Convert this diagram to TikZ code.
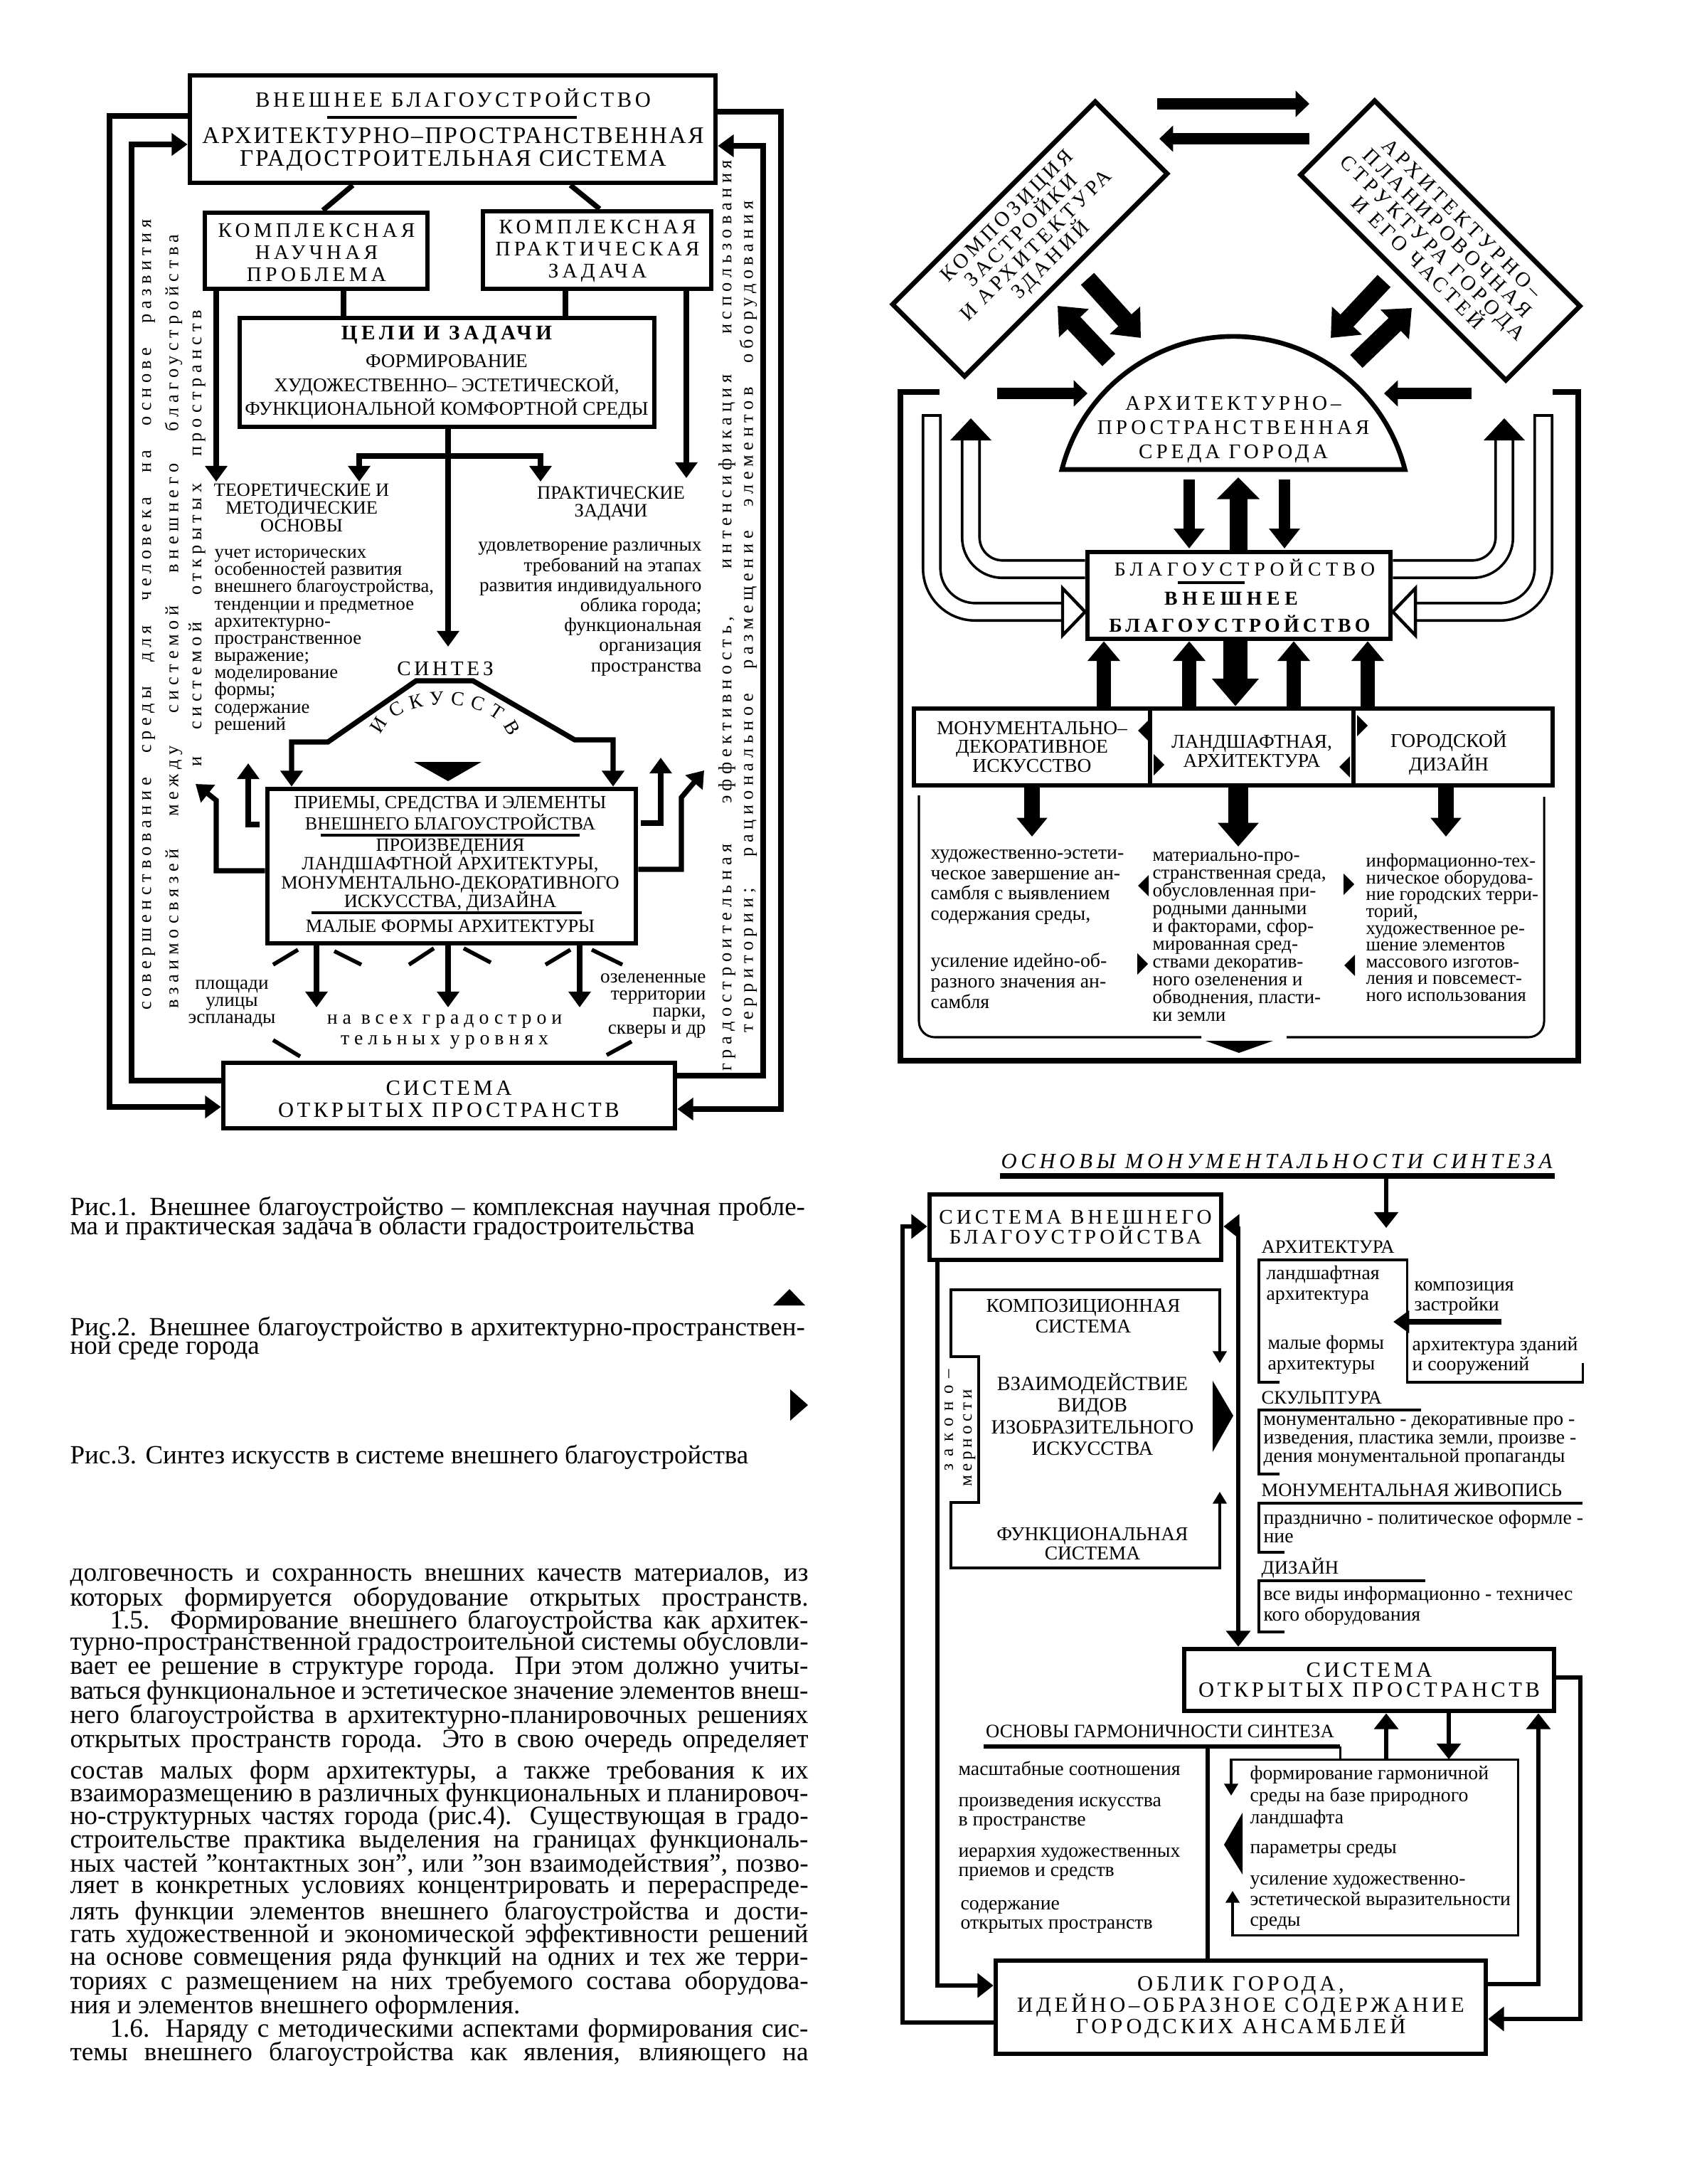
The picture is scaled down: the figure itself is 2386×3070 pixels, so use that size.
\documentclass[tikz,border=0pt]{standalone}
\usepackage{fontspec}
\setmainfont{Liberation Serif}
\usetikzlibrary{arrows.meta,positioning,calc,fit,decorations.text}
\newcommand\fnt[3]{\fontsize{#1}{#2}\selectfont\addfontfeature{LetterSpace=#3}\lineskiplimit=-50pt\lineskip=0pt}

\begin{document}
\begin{tikzpicture}[x=0.36pt,y=-0.36pt,
  box/.style={draw,line width=2.4pt,inner sep=0pt},
  lbl/.style={inner sep=0pt,align=center},
  lft/.style={inner sep=0pt,align=left,anchor=west},
  rgt/.style={inner sep=0pt,align=right,anchor=east},
  vert/.style={inner sep=0pt,rotate=90,anchor=west},
  ln/.style={line width=2.6pt},
  thn/.style={line width=1.1pt},
  ar/.style={-{Triangle[length=8pt,width=11pt]},line width=2.6pt},
  arr/.style={{Triangle[length=8pt,width=11pt]}-{Triangle[length=8pt,width=11pt]},line width=2.6pt},
  ar3/.style={-{Triangle[length=8pt,width=12pt]},line width=2.4pt},
  thar/.style={{Triangle[length=6pt,width=7pt]}-{Triangle[length=6pt,width=7pt]},line width=1.1pt},
  fat/.style={-{Triangle[length=12pt,width=20pt]},line width=9pt},
  harr/.style={-{Triangle[length=7pt,width=13pt]},line width=5.6pt},
  med/.style={-{Triangle[length=10pt,width=15pt]},line width=5.5pt},
  rowar/.style={-{Triangle[length=10pt,width=16pt]},line width=7pt},
  big/.style={-{Triangle[length=14pt,width=23pt]},line width=12pt},
  band/.style={line width=1.3pt,double=white,double distance=7.5pt},
  capt/.style={font=\fnt{10.5}{11.3}{18}},
  low/.style={font=\fnt{9.6}{8.7}{0}},
  body/.style={inner sep=0pt,anchor=west,font=\fnt{13.4}{15}{0}},
  figcap/.style={inner sep=0pt,anchor=west,font=\fnt{13.3}{15}{0}}]
\fill[white] (0,0) rectangle (2386,3070);
\useasboundingbox (0,0) rectangle (2386,3070);
% figure 1
\node[box,fit={(267,106) (1006,257)}] (top) {};
\node[lbl,font=\fnt{11}{12}{15}] (topa) at (637,138) {ВНЕШНЕЕ БЛАГОУСТРОЙСТВО};
\draw[line width=1.6pt] (460,165) -- (811,165);
\node[lbl,font=\fnt{12}{11.5}{8}] (topb) at (637,210) {АРХИТЕКТУРНО–ПРОСТРАНСТВЕННАЯ\\ГРАДОСТРОИТЕЛЬНАЯ СИСТЕМА};
\node[box,fit={(288,299) (601,406)}] (sci) {};
\node[lbl,capt] at (445,355) {КОМПЛЕКСНАЯ\\НАУЧНАЯ\\ПРОБЛЕМА};
\node[box,fit={(679,297) (1000,406)}] (prac) {};
\node[lbl,capt] at (840,353) {КОМПЛЕКСНАЯ\\ПРАКТИЧЕСКАЯ\\ЗАДАЧА};
\draw[ln] (top.south -| 496,0) -- (sci.north -| 454,0);
\draw[ln] (top.south -| 802,0) -- (prac.north -| 843,0);
\node[box,fit={(337,447) (920,600)}] (goals) {};
\node[lbl,font={\bfseries\fnt{10.5}{12}{19}}] at (628,471) {ЦЕЛИ И ЗАДАЧИ};
\node[lbl,font=\fnt{9.8}{12}{0}] at (628,544) {ФОРМИРОВАНИЕ\\ХУДОЖЕСТВЕННО– ЭСТЕТИЧЕСКОЙ,\\ФУНКЦИОНАЛЬНОЙ КОМФОРТНОЙ СРЕДЫ};
\draw[ln] (sci.south -| 483,0) -- (goals.north -| 483,0);
\draw[ln] (prac.south -| 795,0) -- (goals.north -| 795,0);
\draw[ar] (sci.south -| 304,0) -- (304,677);
\draw[ar] (prac.south -| 965,0) -- (965,672);
\draw[ar] (goals.south -| 630,0) -- (630,909);
\draw[ar] (630,641) -| (505,677);
\draw[ar] (630,641) -| (760,677);
\node[lbl,font=\fnt{9.5}{8.9}{0}] (theo) at (424,714) {ТЕОРЕТИЧЕСКИЕ И\\МЕТОДИЧЕСКИЕ\\ОСНОВЫ};
\node[lft,low] at (301,902) {учет исторических\\особенностей развития\\внешнего благоустройства,\\тенденции и предметное\\архитектурно-\\пространственное\\выражение;\\моделирование\\формы;\\содержание\\решений};
\node[lbl,font=\fnt{9.6}{9}{0}] (ptask) at (859,708) {ПРАКТИЧЕСКИЕ\\ЗАДАЧИ};
\node[rgt,font=\fnt{9.8}{10.15}{0}] at (987,856) {удовлетворение различных\\требований на этапах\\развития индивидуального\\облика города;\\функциональная\\организация\\пространства};
\node[lbl,font=\fnt{10.5}{12}{16}] (synt) at (626,940) {СИНТЕЗ};
\path[decorate,decoration={text along path,text align={fit to path},
  text={|\fontsize{10}{12}\selectfont|ИСКУССТВ}}] (536,1033) .. controls (556,976) and (696,976) .. (716,1036);
\node[box,fit={(376,1109) (894,1326)}] (meth) {};
\draw[arr] (meth.north -| 410,0) |- (461,1043) -- (585,957) -- (665,957) -- (808,1040) -| (meth.north -| 862,0);
\fill (582,1071) -- (677,1071) -- (630,1098) -- cycle;
\node[lbl,font=\fnt{9.4}{10.8}{0}] at (633,1143) {ПРИЕМЫ, СРЕДСТВА И ЭЛЕМЕНТЫ\\ВНЕШНЕГО БЛАГОУСТРОЙСТВА};
\draw[line width=1.2pt] (451,1174) -- (815,1174);
\node[lbl,font=\fnt{9.5}{9.4}{0}] at (633,1230) {ПРОИЗВЕДЕНИЯ\\ЛАНДШАФТНОЙ АРХИТЕКТУРЫ,\\МОНУМЕНТАЛЬНО-ДЕКОРАТИВНОГО\\ИСКУССТВА, ДИЗАЙНА};
\draw[line width=1.2pt] (438,1283) -- (818,1283);
\node[lbl,font=\fnt{9.5}{10}{0}] at (633,1302) {МАЛЫЕ ФОРМЫ АРХИТЕКТУРЫ};
\draw[ar] (365,1159) -| (349,1073);
\draw[ar] (901,1157) -| (929,1065);
\draw[ar] (meth.west |- 0,1224) -| (304,1125) -- (275,1102);
\draw[ar] (meth.east |- 0,1222) -| (958,1121) -- (990,1083);
\foreach \x in {445,630,815}
  \draw[ar] (meth.south -| \x,0) -- (\x,1416);
\foreach \a/\b/\c/\d in {384/1356/419/1335, 470/1337/508/1356, 575/1356/610/1333, 652/1333/690/1353,
  767/1356/802/1335, 832/1335/875/1356, 384/1462/422/1485, 853/1483/888/1464}
  \draw[line width=2pt] (\a,\b) -- (\c,\d);
\node[lbl,font=\fnt{9.8}{8.6}{0}] at (326,1411) {площади\\улицы\\эспланады};
\node[lbl,font=\fnt{10}{10.4}{25}] at (625,1450) {на всех градострои\\тельных уровнях};
\node[rgt,font=\fnt{9.8}{8.75}{0}] at (993,1414) {озелененные\\территории\\парки,\\скверы и др};
\node[box,fit={(314,1494) (949,1586)}] (open) {};
\node[lbl,font=\fnt{11}{11.5}{15}] at (631,1545) {СИСТЕМА\\ОТКРЫТЫХ ПРОСТРАНСТВ};
% loops round figure 1
\draw[ar] (top.west |- 0,163) -| (154,1556) -- (open.west |- 0,1556);
\draw[ar] (open.west |- 0,1519) -| (185,203) -- (top.west |- 0,203);
\draw[ar] (top.east |- 0,157) -| (1098,1559) -- (open.east |- 0,1559);
\draw[ar] (open.east |- 0,1512) -| (1073,205) -- (top.east |- 0,205);
\node[vert,font=\fnt{9.5}{10}{25}] at (209,1420) {\makebox[400pt][s]{совершенствование среды для человека на основе развития}};
\node[vert,font=\fnt{9.5}{10}{25}] at (244,1418) {\makebox[391.7pt][s]{взаимосвязей между системой внешнего благоустройства}};
\node[vert,font=\fnt{9.5}{10}{25}] at (277,1078) {\makebox[230.8pt][s]{и системой открытых пространств}};
\node[vert,font=\fnt{9.5}{10}{25}] at (1022,1506) {\makebox[461pt][s]{градостроительная эффективность, интенсификация использования}};
\node[vert,font=\fnt{9.5}{10}{25}] at (1052,1452) {\makebox[420.8pt][s]{территории; рациональное размещение элементов оборудования}};
% figure 2
\draw[harr] (1627,146) -- (1841,146);
\draw[harr] (1841,195) -- (1630,195);
\node[box,rotate=45,minimum width=145pt,minimum height=51.5pt] (comp) at (1448,336) {};
\node[lbl,rotate=45,font=\fnt{10.5}{10.5}{17}] at (comp.center) {КОМПОЗИЦИЯ\\ЗАСТРОЙКИ\\И АРХИТЕКТУРА\\ЗДАНИЙ};
\node[box,rotate=-45,minimum width=147pt,minimum height=53pt] (plan) at (2025,338) {};
\node[lbl,rotate=-45,font=\fnt{10.5}{10.5}{17}] at (plan.center) {АРХИТЕКТУРНО–\\ПЛАНИРОВОЧНАЯ\\СТРУКТУРА ГОРОДА\\И ЕГО ЧАСТЕЙ};
\draw[line width=2.4pt] (1493,660) arc[start angle=194.4,end angle=345.6,radius=249] -- cycle;
\node[lbl,font=\fnt{10.5}{12.4}{17}] (dome) at (1734,604) {АРХИТЕКТУРНО–\\ПРОСТРАНСТВЕННАЯ\\СРЕДА ГОРОДА};
\draw[fat] (1529,392) -- (1604,475);
\draw[fat] (1559,506) -- (1487,430);
\draw[fat] (1946,395) -- (1871,475);
\draw[fat] (1907,508) -- (1985,433);
\draw[harr] (1402,553) -- (1529,553);
\draw[harr] (2069,553) -- (1946,553);
\node[box,fit={(1529,776) (1955,898)}] (blg) {};
\node[lbl,font=\fnt{10}{12}{24}] at (1750,798) {БЛАГОУСТРОЙСТВО};
\draw[line width=1.5pt] (1656,819) -- (1750,819);
\node[lbl,font={\bfseries\fnt{10}{12}{24}}] at (1731,841) {ВНЕШНЕЕ};
\node[lbl,font={\bfseries\fnt{10}{12}{19}}] at (1743,877) {БЛАГОУСТРОЙСТВО};
\draw[med] (1672,674) -- (1672,771);
\draw[med,line width=9pt,-{Triangle[length=11pt,width=21pt]}] (1741,774) -- (1741,671);
\draw[med] (1806,674) -- (1806,771);
% hollow bands
\draw[band,rounded corners=22pt] (1310,584) |- (1494,860);
\draw[line width=1.3pt] (1296,584) -- (1324,584);
\draw[line width=1.6pt,fill=white] (1494,827) -- (blg.west |- 0,860) -- (1494,893) -- cycle;
\draw[band,rounded corners=16pt] (1365,618) |- (blg.west |- 0,800);
\fill (1336,619) -- (1365,588) -- (1394,619) -- cycle;
\draw[band,rounded corners=22pt] (2170,584) |- (1990,860);
\draw[line width=1.3pt] (2156,584) -- (2184,584);
\draw[line width=1.6pt,fill=white] (1990,827) -- (blg.east |- 0,860) -- (1990,893) -- cycle;
\draw[band,rounded corners=16pt] (2115,618) |- (blg.east |- 0,800);
\fill (2086,619) -- (2115,588) -- (2144,619) -- cycle;
% row of boxes
\node[box,fit={(1285,996) (1617,1104)}] (mon) {};
\node[box,fit={(1617,996) (1903,1104)}] (land) {};
\node[box,fit={(1903,996) (2183,1104)}] (diz) {};
\node[lbl,font=\fnt{9.9}{9.5}{0}] at (mon.center) {МОНУМЕНТАЛЬНО–\\ДЕКОРАТИВНОЕ\\ИСКУССТВО};
\node[lbl,font=\fnt{9.9}{10}{0}] at (1760,1056) {ЛАНДШАФТНАЯ,\\АРХИТЕКТУРА};
\node[lbl,font=\fnt{9.9}{12}{0}] at (2037,1058) {ГОРОДСКОЙ\\ДИЗАЙН};
\foreach \x in {1552,1672,1819,1923}
  \draw[rowar] (mon.north -| \x,0) -- (blg.south -| \x,0);
\draw[big] (blg.south -| 1737,0) -- (mon.north -| 1737,0);
\foreach \x/\y in {1600/1027, 1883/1078, 1600/1245, 1890/1357}
  \fill (\x,\y) -- ++(15,-15) -- ++(0,30) -- cycle;
\foreach \x/\y in {1637/1075, 1923/1020, 1614/1355, 1904/1243}
  \fill (\x,\y) -- ++(-15,-15) -- ++(0,30) -- cycle;
\draw[-{Triangle[length=9.5pt,width=15pt]},line width=8pt] (mon.south -| 1451,0) -- (1451,1176);
\draw[-{Triangle[length=12pt,width=20pt]},line width=10pt] (land.south -| 1741,0) -- (1741,1190);
\draw[-{Triangle[length=9.5pt,width=15pt]},line width=8pt] (diz.south -| 2033,0) -- (2033,1176);
\node[lft,font=\fnt{10}{10.3}{0}] at (1308,1247) {художественно-эстети-\\ческое завершение ан-\\самбля с выявлением\\содержания среды,};
\node[lft,font=\fnt{10}{10.4}{0}] at (1308,1379) {усиление идейно-об-\\разного значения ан-\\самбля};
\node[lft,font=\fnt{9.8}{9}{0}] at (1620,1317) {материально-про-\\странственная среда,\\обусловленная при-\\родными данными\\и факторами, сфор-\\мированная сред-\\ствами декоратив-\\ного озеленения и\\обводнения, пласти-\\ки земли};
\node[lft,font=\fnt{9.6}{8.5}{0}] at (1920,1304) {информационно-тех-\\ническое оборудова-\\ние городских терри-\\торий,\\художественное ре-\\шение элементов\\массового изготов-\\ления и повсемест-\\ного использования};
\draw[thn,rounded corners=8pt] (1292,1118) |- (1689,1458);
\draw[thn,rounded corners=8pt] (2171,1120) |- (1809,1458);
\fill (1695,1463) -- (1790,1463) -- (1742,1480) -- cycle;
\draw[line width=2.8pt] (1321,551) -| (1266,1491) -| (2219,551) -- (2183,551);
% captions
\node[figcap] at (98,1699) {\makebox[372pt][s]{Рис.1. Внешнее благоустройство – комплексная научная пробле-}};
\node[figcap] at (98,1726) {ма и практическая задача в области градостроительства};
\node[figcap] at (98,1868) {\makebox[372pt][s]{Рис.2. Внешнее благоустройство в архитектурно-пространствен-}};
\node[figcap] at (98,1895) {ной среде города};
\node[figcap] at (98,2048) {Рис.3. Синтез искусств в системе внешнего благоустройства};
\fill (1087,1835) -- (1110,1812) -- (1132,1835) -- cycle;
\fill (1111,1953) -- (1136,1975) -- (1111,1997) -- cycle;
% body text
\foreach \y/\t in {2218/{долговечность и сохранность внешних качеств материалов, из},
  2248/{которых формируется оборудование открытых пространств.},
  2310/{турно-пространственной градостроительной системы обусловли-},
  2345/{вает ее решение в структуре города. При этом должно учиты-},
  2380/{ваться функциональное и эстетическое значение элементов внеш-},
  2413/{него благоустройства в архитектурно-планировочных решениях},
  2448/{открытых пространств города. Это в свою очередь определяет},
  2491/{состав малых форм архитектуры, а также требования к их},
  2524/{взаиморазмещению в различных функциональных и планировоч-},
  2556/{но-структурных частях города (рис.4). Существующая в градо-},
  2589/{строительстве практика выделения на границах функциональ-},
  2622/{ных частей ”контактных зон”, или ”зон взаимодействия”, позво-},
  2657/{ляет в конкретных условиях концентрировать и перераспреде-},
  2689/{лять функции элементов внешнего благоустройства и дости-},
  2722/{гать художественной и экономической эффективности решений},
  2754/{на основе совмещения ряда функций на одних и тех же терри-},
  2787/{ториях с размещением на них требуемого состава оборудова-},
  2887/{темы внешнего благоустройства как явления, влияющего на}}
  \node[body] at (98,\y) {\makebox[373.7pt][s]{\t}};
\node[body] at (154,2280) {\makebox[353.5pt][s]{1.5. Формирование внешнего благоустройства как архитек-}};
\node[body] at (98,2822) {ния и элементов внешнего оформления.};
\node[body] at (154,2855) {\makebox[353.5pt][s]{1.6. Наряду с методическими аспектами формирования сис-}};
% figure 3
\node[lbl,font={\itshape\fnt{11}{13}{19}}] (mont) at (1795,1633) {ОСНОВЫ МОНУМЕНТАЛЬНОСТИ СИНТЕЗА};
\draw[line width=3pt] (1406,1653) -- (2186,1653);
\draw[ar3] (1949,1653) -- (1949,1726);
\node[box,fit={(1307,1679) (1717,1771)}] (sys) {};
\node[lbl,font=\fnt{10.5}{10.4}{17}] at (sys.center) {СИСТЕМА ВНЕШНЕГО\\БЛАГОУСТРОЙСТВА};
\draw[thar] (1715,1916) -- (1715,1813) -- (1337,1813) -- (1337,1907) -- (1376,1907) -- (1376,2112)
  -- (1337,2112) -- (1337,2204) -- (1715,2204) -- (1715,2097);
\node[lbl,font=\fnt{9.9}{10.4}{0}] at (1523,1850) {КОМПОЗИЦИОННАЯ\\СИСТЕМА};
\node[lbl,font=\fnt{10.2}{10.9}{0}] at (1536,1988) {ВЗАИМОДЕЙСТВИЕ\\ВИДОВ\\ИЗОБРАЗИТЕЛЬНОГО\\ИСКУССТВА};
\node[lbl,font=\fnt{9.9}{9.9}{0}] at (1536,2170) {ФУНКЦИОНАЛЬНАЯ\\СИСТЕМА};
\fill (1705,1941) -- (1734,1990) -- (1705,2041) -- cycle;
\node[vert,font=\fnt{9}{10}{40}] at (1334,2068) {законо–};
\node[vert,font=\fnt{9}{10}{20}] at (1363,2090) {мерности};
\node[lft,font=\fnt{9.6}{11}{0}] at (1773,1753) {АРХИТЕКТУРА};
\node[lft,font=\fnt{10}{10.4}{0}] at (1780,1806) {ландшафтная\\архитектура};
\node[lft,font=\fnt{10}{9.9}{0}] at (1988,1825) {композиция\\застройки};
\node[lft,font=\fnt{10}{10.4}{0}] at (1782,1904) {малые формы\\архитектуры};
\node[lft,font=\fnt{10}{10.4}{0}] at (1985,1906) {архитектура зданий\\и сооружений};
\draw[thn] (1799,1943) -- (1770,1943) -- (1770,1771) -- (1978,1771) -- (1978,1846);
\draw[thn] (1978,1871) -- (1978,1943) -- (2225,1943) -- (2225,1916);
\draw[-{Triangle[length=8pt,width=11pt]},line width=2.6pt] (2111,1858) -- (1959,1858);
\node[lft,font=\fnt{9.6}{11}{0}] at (1773,1965) {СКУЛЬПТУРА};
\draw[thn] (1799,2072) -- (1770,2072) -- (1770,1982) -- (1998,1982);
\node[lft,font=\fnt{10}{9.5}{0}] at (1776,2026) {монументально - декоративные про -\\изведения, пластика земли, произве -\\дения монументальной пропаганды};
\node[lft,font=\fnt{9.6}{11}{0}] at (1773,2095) {МОНУМЕНТАЛЬНАЯ ЖИВОПИСЬ};
\draw[thn] (1806,2182) -- (1770,2182) -- (1770,2113) -- (2225,2113);
\node[lft,font=\fnt{10}{9.4}{0}] at (1776,2146) {празднично - политическое оформле -\\ние};
\node[lft,font=\fnt{9.6}{11}{0}] at (1773,2204) {ДИЗАЙН};
\draw[thn] (1806,2294) -- (1770,2294) -- (1770,2222) -- (2004,2222);
\node[lft,font=\fnt{10}{10.4}{0}] at (1776,2257) {все виды информационно - техничес\\кого оборудования};
\node[box,fit={(1665,2318) (2185,2405)}] (osp) {};
\node[lbl,font=\fnt{11}{10.4}{15}] at (osp.center) {СИСТЕМА\\ОТКРЫТЫХ ПРОСТРАНСТВ};
\draw[{Triangle[length=8pt,width=12pt]}-{Triangle[length=8pt,width=12pt]},line width=2.4pt] (sys.east |- 0,1724) -| (osp.north -| 1741,0);
\node[lbl,font=\fnt{9.6}{11}{0}] (harm) at (1631,2434) {ОСНОВЫ ГАРМОНИЧНОСТИ СИНТЕЗА};
\draw[line width=2.2pt] (1383,2455) -- (1884,2455);
\draw[thn] (1884,2455) -- (1884,2473);
\draw[thar] (1731,2524) -- (1731,2473) -- (2134,2473) -- (2134,2720) -- (1733,2720) -- (1733,2658);
\fill (1721,2593) -- (1747,2548) -- (1747,2635) -- cycle;
\draw[ar3] (1949,2473) -- (osp.south -| 1949,0);
\draw[ar3] (osp.south -| 2037,0) -- (2037,2473);
\node[lft,font=\fnt{10}{11}{0}] at (1347,2486) {масштабные соотношения};
\node[lft,font=\fnt{10}{9.7}{0}] at (1347,2549) {произведения искусства\\в пространстве};
\node[lft,font=\fnt{10}{9.7}{0}] at (1347,2620) {иерархия художественных\\приемов и средств};
\node[lft,font=\fnt{10}{9.7}{0}] at (1350,2694) {содержание\\открытых пространств};
\node[lft,font=\fnt{10}{11.2}{0}] at (1757,2526) {формирование гармоничной\\среды на базе природного\\ландшафта};
\node[lft,font=\fnt{10}{11}{0}] at (1757,2602) {параметры среды};
\node[lft,font=\fnt{10}{10.4}{0}] at (1757,2675) {усиление художественно-\\эстетической выразительности\\среды};
\node[box,fit={(1400,2756) (2089,2887)}] (obl) {};
\node[lbl,font=\fnt{11}{10.8}{16}] at (obl.center) {ОБЛИК ГОРОДА,\\ИДЕЙНО–ОБРАЗНОЕ СОДЕРЖАНИЕ\\ГОРОДСКИХ АНСАМБЛЕЙ};
\draw[line width=2.2pt] (1698,2455) -- (obl.north -| 1698,0);
\draw[ar3] (obl.west |- 0,2843) -| (1269,1724) -- (sys.west |- 0,1724);
\draw[ar3] (sys.south -| 1318,0) |- (obl.west |- 0,2791);
\draw[ar3] (osp.east |- 0,2358) -| (2222,2838) -- (obl.east |- 0,2838);
\draw[ar3] (obl.east |- 0,2789) -| (osp.south -| 2163,0);
\end{tikzpicture}
\end{document}
